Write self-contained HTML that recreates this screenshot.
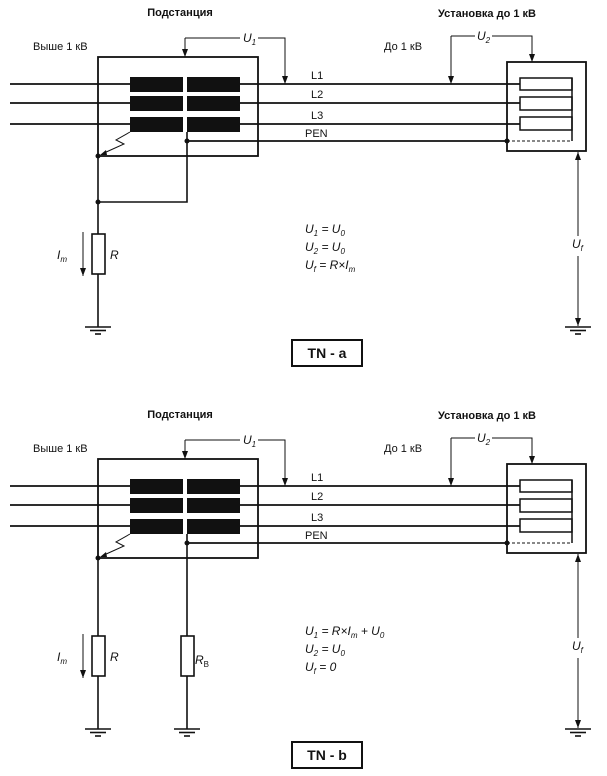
<!DOCTYPE html>
<html><head><meta charset="utf-8"><style>
html,body{margin:0;padding:0;background:#fff;}
svg{display:block;font-family:"Liberation Sans",sans-serif;}
.t{font-size:11px;fill:#111;}
.b{font-size:11px;font-weight:bold;fill:#111;}
.i{font-size:12px;font-style:italic;fill:#111;}
.s{font-size:8px;}
</style></head><body>
<svg width="607" height="776" viewBox="0 0 607 776" xmlns="http://www.w3.org/2000/svg">
<defs>
<marker id="ad" markerWidth="8" markerHeight="8" refX="8" refY="4" orient="auto" markerUnits="userSpaceOnUse" viewBox="0 0 8 8"><path d="M0,1 L8,4 L0,7 Z" fill="#111"/></marker>
<g id="gnd" stroke="#111" stroke-width="1.6"><line x1="-13" y1="0" x2="13" y2="0"/><line x1="-8" y1="3.5" x2="8" y2="3.5"/><line x1="-3" y1="7" x2="3" y2="7"/></g>
<g id="common" stroke="#111" fill="none">
<rect x="98" y="57" width="160" height="99" stroke-width="1.8"/>
<line x1="10" y1="84" x2="130" y2="84" stroke-width="1.8"/>
<line x1="10" y1="103" x2="130" y2="103" stroke-width="1.8"/>
<line x1="10" y1="124" x2="130" y2="124" stroke-width="1.8"/>
<line x1="240" y1="84" x2="520" y2="84" stroke-width="1.8"/>
<line x1="240" y1="103" x2="520" y2="103" stroke-width="1.8"/>
<line x1="240" y1="124" x2="520" y2="124" stroke-width="1.8"/>
<line x1="187" y1="141" x2="507" y2="141" stroke-width="1.8"/>
<g fill="#111" stroke="none">
<rect x="130" y="77" width="53" height="15"/><rect x="130" y="96" width="53" height="15"/><rect x="130" y="117" width="53" height="15"/>
<rect x="187" y="77" width="53" height="15"/><rect x="187" y="96" width="53" height="15"/><rect x="187" y="117" width="53" height="15"/>
</g>
<polyline points="130,132 116,140 124,144 104,153" stroke-width="1"/>
<path d="M100,155 L106,150 L107,155 Z" fill="#111" stroke="none"/>
<circle cx="98" cy="156" r="2.5" fill="#111" stroke="none"/>
<circle cx="187" cy="141" r="2.5" fill="#111" stroke="none"/>
<polyline points="185,38 240,38" stroke-width="1"/><polyline points="258,38 285,38 285,84" stroke-width="1" marker-end="url(#ad)"/>
<line x1="185" y1="38" x2="185" y2="57" stroke-width="1" marker-end="url(#ad)"/>
<rect x="507" y="62" width="79" height="89" stroke-width="1.8"/>
<rect x="520" y="78" width="52" height="12" stroke-width="1.5"/>
<rect x="520" y="97" width="52" height="13" stroke-width="1.5"/>
<rect x="520" y="117" width="52" height="13" stroke-width="1.5"/>
<line x1="572" y1="78" x2="572" y2="141" stroke-width="1.5"/>
<line x1="507" y1="141" x2="572" y2="141" stroke-width="1" stroke-dasharray="3,2"/>
<circle cx="507" cy="141" r="2.5" fill="#111" stroke="none"/>
<polyline points="451,36 475,36" stroke-width="1"/><polyline points="492,36 532,36 532,62" stroke-width="1" marker-end="url(#ad)"/>
<line x1="451" y1="36" x2="451" y2="84" stroke-width="1" marker-end="url(#ad)"/>
<line x1="578" y1="236" x2="578" y2="152" stroke-width="1" marker-end="url(#ad)"/>
<line x1="578" y1="256" x2="578" y2="326" stroke-width="1" marker-end="url(#ad)"/>
<line x1="98" y1="156" x2="98" y2="327" stroke-width="1.6"/>
<rect x="92" y="234" width="13" height="40" fill="#fff" stroke-width="1.6"/>
<line x1="83" y1="232" x2="83" y2="276" stroke-width="1" marker-end="url(#ad)"/>
<use href="#gnd" x="98" y="327"/>
<use href="#gnd" x="578" y="327"/>
</g>
<g id="texts">
<text x="180" y="16" class="b" text-anchor="middle">Подстанция</text>
<text x="33" y="50" class="t">Выше 1 кВ</text>
<text x="487" y="17" class="b" text-anchor="middle">Установка до 1 кВ</text>
<text x="384" y="50" class="t">До 1 кВ</text>
<text x="311" y="79" class="t">L1</text>
<text x="311" y="98" class="t">L2</text>
<text x="311" y="119" class="t">L3</text>
<text x="305" y="137" class="t">PEN</text>
<text x="243" y="42" class="i">U<tspan class="s" dy="3">1</tspan></text>
<text x="477" y="40" class="i">U<tspan class="s" dy="3">2</tspan></text>
<text x="572" y="248" class="i">U<tspan class="s" dy="3">f</tspan></text>
<text x="57" y="259" class="i">I<tspan class="s" dy="3">m</tspan></text>
<text x="110" y="259" class="i">R</text>
</g>
</defs>

<use href="#common"/>
<use href="#texts"/>
<g stroke="#111" fill="none" stroke-width="1.6">
<polyline points="187,132 187,202 98,202"/>
</g>
<circle cx="98" cy="202" r="2.5" fill="#111"/>
<text x="305" y="233" class="i">U<tspan class="s" dy="3">1</tspan><tspan dy="-3"> = U</tspan><tspan class="s" dy="3">0</tspan></text>
<text x="305" y="251" class="i">U<tspan class="s" dy="3">2</tspan><tspan dy="-3"> = U</tspan><tspan class="s" dy="3">0</tspan></text>
<text x="305" y="269" class="i">U<tspan class="s" dy="3">f</tspan><tspan dy="-3"> = R×I</tspan><tspan class="s" dy="3">m</tspan></text>
<rect x="292" y="340" width="70" height="26" fill="none" stroke="#111" stroke-width="2"/>
<text x="327" y="358" font-size="14" font-weight="bold" text-anchor="middle" fill="#111">TN - a</text>

<g transform="translate(0,402)">
<use href="#common"/>
<use href="#texts"/>
<g stroke="#111" fill="none" stroke-width="1.6">
<line x1="187" y1="132" x2="187" y2="327"/>
<rect x="181" y="234" width="13" height="40" fill="#fff"/>
</g>
<use href="#gnd" x="187" y="327"/>
<text x="195" y="262" class="i">R<tspan class="s" dy="3" font-style="normal">B</tspan></text>
<text x="305" y="233" class="i">U<tspan class="s" dy="3">1</tspan><tspan dy="-3"> = R×I</tspan><tspan class="s" dy="3">m</tspan><tspan dy="-3"> + U</tspan><tspan class="s" dy="3">0</tspan></text>
<text x="305" y="251" class="i">U<tspan class="s" dy="3">2</tspan><tspan dy="-3"> = U</tspan><tspan class="s" dy="3">0</tspan></text>
<text x="305" y="269" class="i">U<tspan class="s" dy="3">f</tspan><tspan dy="-3"> = 0</tspan></text>
<rect x="292" y="340" width="70" height="26" fill="none" stroke="#111" stroke-width="2"/>
<text x="327" y="358" font-size="14" font-weight="bold" text-anchor="middle" fill="#111">TN - b</text>
</g>
</svg>
</body></html>
